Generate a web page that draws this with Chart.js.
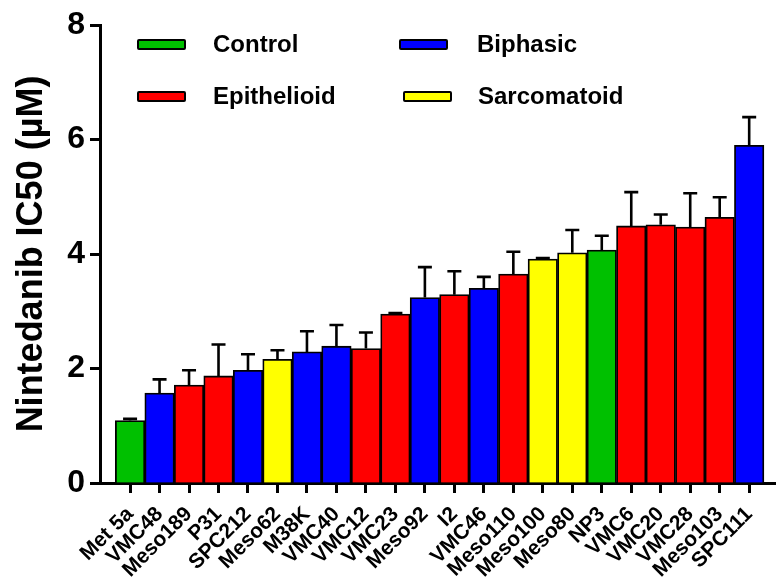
<!DOCTYPE html>
<html>
<head>
<meta charset="utf-8">
<script src="https://cdn.jsdelivr.net/npm/chart.js@4.4.1/dist/chart.umd.min.js"></script>
<style>
  body { margin: 0; background: #fff; }
  #wrap { position: relative; width: 776px; height: 579px; }
  .lg { position: absolute; font: bold 24px "Liberation Sans", Arial, sans-serif; color: #000; }
  .sw { position: absolute; width: 45px; height: 7px; border: 2px solid #000; border-radius: 2px; }
</style>
</head>
<body>
<div id="wrap">
  <canvas id="chart"></canvas>
</div>
<script>
const cellLines = ['Met 5a', 'VMC48', 'Meso189', 'P31', 'SPC212', 'Meso62', 'M38K', 'VMC40',
  'VMC12', 'VMC23', 'Meso92', 'I2', 'VMC46', 'Meso110', 'Meso100', 'Meso80', 'NP3',
  'VMC6', 'VMC20', 'VMC28', 'Meso103', 'SPC111'];
const ic50 = [1.09, 1.57, 1.71, 1.87, 1.97, 2.16, 2.29, 2.39, 2.35, 2.95, 3.24, 3.29, 3.40,
  3.65, 3.91, 4.02, 4.07, 4.49, 4.51, 4.47, 4.64, 5.90];
const sem = [0.03, 0.24, 0.26, 0.55, 0.28, 0.16, 0.36, 0.37, 0.28, 0.02, 0.53, 0.41, 0.20,
  0.39, 0.02, 0.40, 0.25, 0.59, 0.18, 0.59, 0.35, 0.49];
const subtype = ['Control', 'Biphasic', 'Epithelioid', 'Epithelioid', 'Biphasic', 'Sarcomatoid',
  'Biphasic', 'Biphasic', 'Epithelioid', 'Epithelioid', 'Biphasic', 'Epithelioid', 'Biphasic',
  'Epithelioid', 'Sarcomatoid', 'Sarcomatoid', 'Control', 'Epithelioid', 'Epithelioid',
  'Epithelioid', 'Epithelioid', 'Biphasic'];
const subtypeNames = ['Control', 'Biphasic', 'Epithelioid', 'Sarcomatoid'];
const subtypeColors = ['#00c000', '#0000ff', '#ff0000', '#ffff00'];
const yTicks = [0, 2, 4, 6, 8];

const FONT = '"Liberation Sans", Arial, sans-serif';
const colorOf = name => subtypeColors[subtypeNames.indexOf(name)];

// legend, 2 x 2 like the original
const legendSpots = [[137, 39, 213], [399, 39, 477], [137, 91, 213], [403, 91, 478]];
subtypeNames.forEach((name, i) => {
  const [sx, sy, tx] = legendSpots[i];
  const sw = document.createElement('div');
  sw.className = 'sw';
  sw.style.left = sx + 'px'; sw.style.top = sy + 'px'; sw.style.background = subtypeColors[i];
  const t = document.createElement('div');
  t.className = 'lg';
  t.textContent = name;
  t.style.left = tx + 'px'; t.style.top = (sy - 9) + 'px';
  document.getElementById('wrap').append(sw, t);
});

// upper-only error bars with caps
const errorBars = {
  id: 'errorBars',
  afterDatasetsDraw(chart) {
    const ctx = chart.ctx;
    const y = chart.scales.y;
    const meta = chart.getDatasetMeta(0);
    ctx.save();
    ctx.strokeStyle = '#000';
    ctx.lineWidth = 2.6;
    meta.data.forEach((bar, i) => {
      const top = y.getPixelForValue(ic50[i] + sem[i]);
      ctx.beginPath();
      ctx.moveTo(bar.x, bar.y);
      ctx.lineTo(bar.x, top);
      ctx.moveTo(bar.x - 7, top);
      ctx.lineTo(bar.x + 7, top);
      ctx.stroke();
    });
    ctx.restore();
  }
};

new Chart(document.getElementById('chart'), {
  type: 'bar',
  data: {
    labels: cellLines,
    datasets: [{
      data: ic50,
      backgroundColor: subtype.map(colorOf),
      borderColor: '#000',
      borderWidth: 1.8,
      barPercentage: 1,
      categoryPercentage: 1
    }]
  },
  options: {
    responsive: true,
    maintainAspectRatio: false,
    animation: false,
    layout: { padding: { top: 25, right: 0, left: 0, bottom: 0 } },
    plugins: { legend: { display: false }, tooltip: { enabled: false } },
    scales: {
      x: {
        offset: true,
        afterBuildTicks: s => { s._startValue = -1.02; s._valueRange = 22.9; },
        afterFit: s => { s.height = 96; },
        border: { display: true, color: '#000', width: 3 },
        grid: { offset: false, drawOnChartArea: false, drawTicks: true, tickLength: 10, tickWidth: 3, tickColor: '#000' },
        ticks: {
          autoSkip: false, minRotation: 45, maxRotation: 45, padding: 9,
          color: '#000', font: { family: FONT, weight: 'bold', size: 21 }
        }
      },
      y: {
        min: 0, max: 8,
        afterBuildTicks: s => { s.ticks = yTicks.map(v => ({ value: v })); },
        afterFit: s => { s.width = 100; },
        border: { display: true, color: '#000', width: 3 },
        grid: { drawOnChartArea: false, drawTicks: true, tickLength: 10, tickWidth: 3, tickColor: '#000' },
        ticks: { padding: 5, color: '#000', font: { family: FONT, weight: 'bold', size: 32 } },
        title: {
          display: true, text: 'Nintedanib IC50 (µM)', color: '#000',
          padding: { top: 10, bottom: 0 },
          font: { family: FONT, weight: 'bold', size: 36 }
        }
      }
    }
  },
  plugins: [errorBars]
});
</script>
</body>
</html>
